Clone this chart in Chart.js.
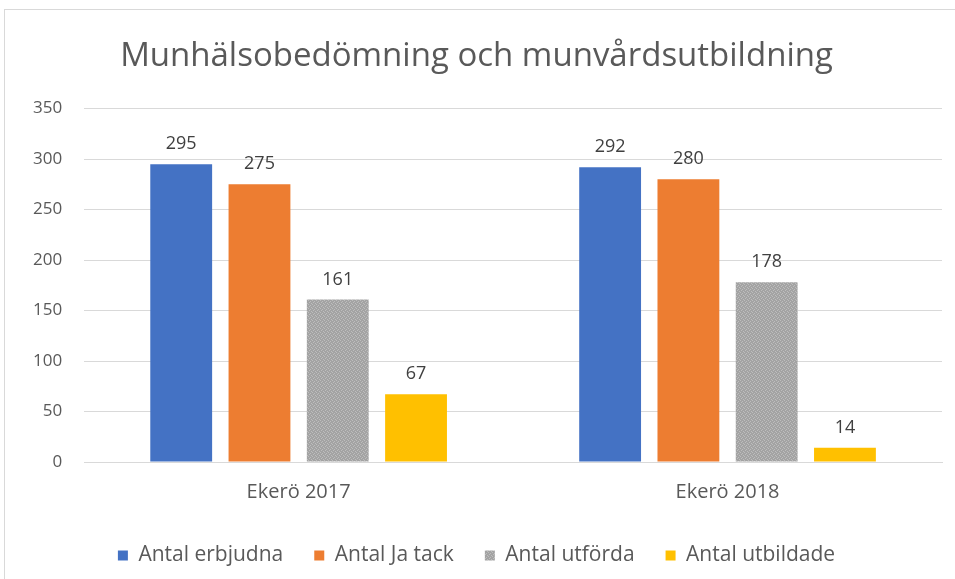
<!DOCTYPE html>
<html>
<head>
<meta charset="utf-8">
<script src="https://cdn.jsdelivr.net/npm/chart.js@4"></script>
<style>
  body { margin: 0; background: #fff; }
  #wrap { position: relative; width: 955px; height: 579px; }
  #frame { position: absolute; left: 4px; top: 9px; right: 0; bottom: 0; border-left: 1px solid #d9d9d9; border-top: 1px solid #d9d9d9; pointer-events: none; }
</style>
</head>
<body>
<div id="wrap">
  <canvas id="barChart" width="955" height="579"></canvas>
  <div id="frame"></div>
</div>
<script>
const categories = ['Ekerö 2017', 'Ekerö 2018'];
const erbjudna = [295, 292];
const jaTack = [275, 280];
const utforda = [161, 178];
const utbildade = [67, 14];
const yTicks = [0, 50, 100, 150, 200, 250, 300, 350];

// dotted grey fill like the original
function greyPattern() {
    const c = document.createElement('canvas');
    c.width = 4; c.height = 4;
    const g = c.getContext('2d');
    g.fillStyle = '#a3a3a3';
    g.fillRect(0, 0, 4, 4);
    g.fillStyle = '#bdbdbd';
    g.fillRect(0, 0, 1, 1);
    g.fillRect(2, 1, 1, 1);
    g.fillRect(1, 2, 1, 1);
    g.fillRect(3, 3, 1, 1);
    return g.createPattern(c, 'repeat');
}

const valueLabels = {
    id: 'valueLabels',
    afterDatasetsDraw(chart) {
        const ctx = chart.ctx;
        ctx.save();
        ctx.font = '18px "Open Sans"';
        ctx.fillStyle = '#404040';
        ctx.textAlign = 'center';
        ctx.textBaseline = 'bottom';
        chart.data.datasets.forEach((ds, i) => {
            chart.getDatasetMeta(i).data.forEach((bar, j) => {
                ctx.fillText(ds.data[j], bar.x, bar.y - 11);
            });
        });
        ctx.restore();
    }
};

const ctx = document.getElementById('barChart').getContext('2d');
new Chart(ctx, {
    type: 'bar',
    data: {
        labels: categories,
        datasets: [
            { label: 'Antal erbjudna', data: erbjudna, backgroundColor: '#4472c4' },
            { label: 'Antal Ja tack', data: jaTack, backgroundColor: '#ed7d31' },
            { label: 'Antal utförda', data: utforda, backgroundColor: greyPattern() },
            { label: 'Antal utbildade', data: utbildade, backgroundColor: '#ffc000' }
        ]
    },
    options: {
        responsive: false,
        animation: false,
        categoryPercentage: 0.73,
        barPercentage: 0.79,
        layout: { padding: { left: 11, right: 13, top: 22, bottom: 3 } },
        plugins: {
            title: {
                display: true,
                text: 'Munhälsobedömning och munvårdsutbildning',
                color: '#595959',
                font: { family: 'Open Sans', size: 33, weight: 'normal' },
                padding: { top: 15, bottom: 32 }
            },
            legend: {
                position: 'bottom',
                labels: {
                    boxWidth: 10,
                    boxHeight: 10,
                    padding: 31,
                    color: '#595959',
                    font: { family: 'Open Sans', size: 21 }
                }
            },
            tooltip: { enabled: false }
        },
        scales: {
            x: {
                grid: { display: false },
                border: { color: '#d9d9d9' },
                ticks: { color: '#595959', font: { family: 'Open Sans', size: 20 }, padding: 10 }
            },
            y: {
                min: 0,
                max: 350,
                afterBuildTicks: axis => { axis.ticks = yTicks.map(v => ({ value: v })); },
                grid: { color: '#d9d9d9', drawTicks: false },
                border: { display: false },
                ticks: { color: '#595959', font: { family: 'Open Sans', size: 17 }, padding: 22 }
            }
        }
    },
    plugins: [valueLabels]
});
</script>
</body>
</html>
